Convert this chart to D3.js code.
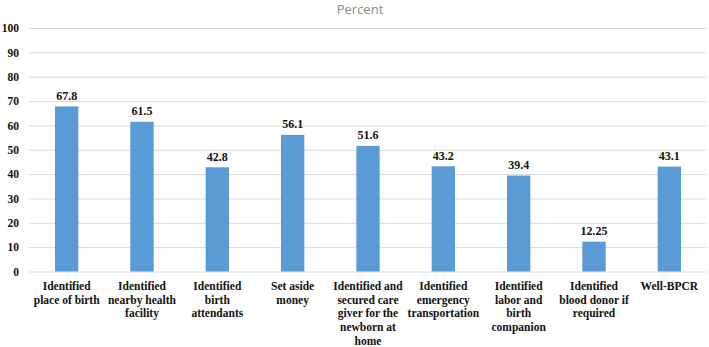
<!DOCTYPE html>
<html><head><meta charset="utf-8">
<script src="https://cdn.jsdelivr.net/npm/d3@7"></script>
<style>body{margin:0;background:#fff}svg{display:block}</style>
</head><body>
<script>
const categories = [
  ["Identified","place of birth"],
  ["Identified","nearby health","facility"],
  ["Identified","birth","attendants"],
  ["Set aside","money"],
  ["Identified and","secured care","giver for the","newborn at","home"],
  ["Identified","emergency","transportation"],
  ["Identified","labor and","birth","companion"],
  ["Identified","blood donor if","required"],
  ["Well-BPCR"]
];
const values = [67.8, 61.5, 42.8, 56.1, 51.6, 43.2, 39.4, 12.25, 43.1];
const valueLabels = ["67.8","61.5","42.8","56.1","51.6","43.2","39.4","12.25","43.1"];
const yTicks = [0,10,20,30,40,50,60,70,80,90,100];
const title = "Percent";

const W = 709, H = 347;
const m = {left: 29, right: 2, top: 28, bottom: 75.5};
const SERIF = '"Liberation Serif"';
const svg = d3.select("body").append("svg").attr("width", W).attr("height", H);

const x = d3.scaleBand().domain(d3.range(categories.length)).range([m.left, W - m.right]).paddingInner(0.69).paddingOuter(0.345);
const y = d3.scaleLinear().domain([0, 100]).range([H - m.bottom, m.top]);

svg.append("text").attr("x", 360).attr("y", 14).attr("text-anchor", "middle")
  .style("font-family", '"Open Sans"').style("font-size", "13px").attr("fill", "#8c8c8c").text(title);

const yAxis = svg.append("g").attr("transform", `translate(${m.left},0)`)
  .call(d3.axisLeft(y).tickValues(yTicks).tickSize(-(W - m.left - m.right)).tickPadding(10));
yAxis.select(".domain").remove();
yAxis.selectAll(".tick line").attr("stroke", "#d9d9d9").attr("stroke-width", 1);
yAxis.selectAll(".tick text").style("font-family", SERIF).style("font-weight", "bold")
  .style("font-size", "11.5px").attr("fill", "#111");

svg.selectAll("rect.bar").data(values).join("rect").attr("class", "bar")
  .attr("x", (d, i) => x(i)).attr("width", x.bandwidth())
  .attr("y", d => y(d)).attr("height", d => y(0) - y(d)).attr("fill", "#5b9bd5");

svg.selectAll("text.val").data(values).join("text").attr("class", "val")
  .attr("x", (d, i) => x(i) + x.bandwidth() / 2).attr("y", d => y(d) - 6.5)
  .attr("text-anchor", "middle").style("font-family", SERIF).style("font-weight", "bold")
  .style("font-size", "12px").attr("fill", "#111")
  .text((d, i) => valueLabels[i]);

const cat = svg.selectAll("text.cat").data(categories).join("text").attr("class", "cat")
  .attr("x", (d, i) => x(i) + x.bandwidth() / 2).attr("y", y(0) + 18.5)
  .attr("text-anchor", "middle").style("font-family", SERIF).style("font-weight", "bold")
  .style("font-size", "11.5px").attr("fill", "#111");
cat.each(function(lines, i) {
  d3.select(this).selectAll("tspan").data(lines).join("tspan")
    .attr("x", x(i) + x.bandwidth() / 2).attr("dy", (d, j) => j === 0 ? 0 : 13.7).text(d => d);
});
</script>
</body></html>
